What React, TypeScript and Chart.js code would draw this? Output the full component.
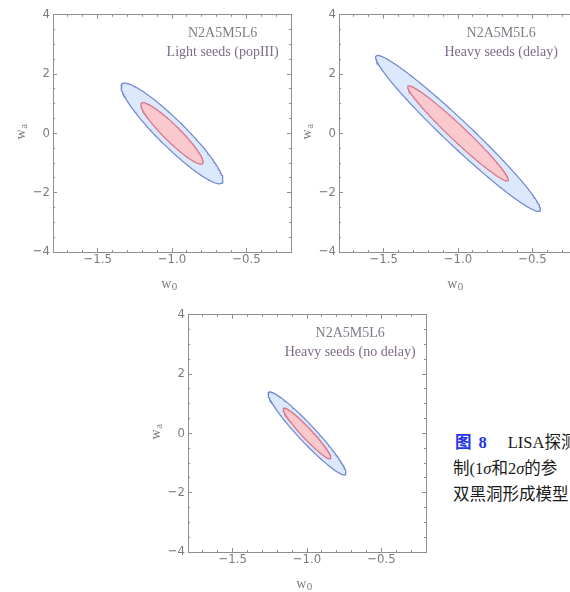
import { useEffect, useRef } from "react";
import { Chart, registerables } from "chart.js";

Chart.register(...registerables);

// Model and MBH formation scenarios, one panel each
const MODEL_NAME = "N2A5M5L6";
const SCENARIOS = ["Light seeds (popIII)", "Heavy seeds (delay)", "Heavy seeds (no delay)"];

// Fisher forecast for the dark-energy parameters (w0, wa):
// fiducial values, marginalised 1σ errors and their correlation coefficient
const FIDUCIAL_W0 = [-1.0, -1.0, -1.0];
const FIDUCIAL_WA = [0.0, 0.0, 0.0];
const SIGMA_W0 = [0.138, 0.223, 0.1055];
const SIGMA_WA = [0.684, 1.059, 0.564];
const CORRELATION = [-0.93, -0.975, -0.955];

// Δχ² of the 68.3% and 95.4% joint regions for two parameters
const CONTOUR_LEVELS = [2.3, 6.17];
const CONTOUR_NAMES = ["1σ", "2σ"];

// Axes
const W0_RANGE = [-1.8, -0.2];
const WA_RANGE = [-4, 4];
const W0_TICKS = [-1.5, -1.0, -0.5];
const W0_TICK_LABELS = ["−1.5", "−1.0", "−0.5"];
const W0_MINOR_TICKS = [-1.8, -1.7, -1.6, -1.5, -1.4, -1.3, -1.2, -1.1, -1.0, -0.9, -0.8, -0.7, -0.6, -0.5, -0.4, -0.3, -0.2];
const WA_TICKS = [-4, -2, 0, 2, 4];
const WA_TICK_LABELS = ["−4", "−2", "0", "2", "4"];
const WA_MINOR_TICKS = [-4, -3.5, -3, -2.5, -2, -1.5, -1, -0.5, 0, 0.5, 1, 1.5, 2, 2.5, 3, 3.5, 4];
// Axis titles: symbol and subscript
const X_TITLE = ["w", "0"];
const Y_TITLE = ["w", "a"];

const SERIF = "'Liberation Serif', 'Times New Roman', serif";
const TICK_FONT = "'Liberation Sans Narrow', 'DejaVu Sans Condensed', 'Liberation Sans', sans-serif";
const FRAME_COLOR = "#8e8e8e";
const TEXT_GRAY = "#7c7c7c";

const STYLE = [
  { fill: "#fac9ce", line: "#d7738a" }, // 1σ
  { fill: "#dce8fb", line: "#7085cf" }, // 2σ
];

// Outline of the confidence ellipse for one panel and one Δχ² level
function contour(panel: number, level: number) {
  const r = Math.sqrt(level);
  const rho = CORRELATION[panel];
  const steps = 240;
  const pts: { x: number; y: number }[] = [];
  for (let k = 0; k <= steps; k++) {
    const t = (2 * Math.PI * k) / steps;
    pts.push({
      x: FIDUCIAL_W0[panel] + r * SIGMA_W0[panel] * Math.cos(t),
      y:
        FIDUCIAL_WA[panel] +
        r * SIGMA_WA[panel] * (rho * Math.cos(t) + Math.sqrt(1 - rho * rho) * Math.sin(t)),
    });
  }
  return pts;
}

// Draws "symbol + subscript" starting at the current origin, baseline at 0
function drawSubscripted(ctx: CanvasRenderingContext2D, parts: string[], centerX: number) {
  ctx.font = `14px ${SERIF}`;
  const w1 = ctx.measureText(parts[0]).width;
  ctx.font = `11px ${SERIF}`;
  const w2 = ctx.measureText(parts[1]).width;
  const start = centerX - (w1 + w2) / 2;
  ctx.textAlign = "left";
  ctx.textBaseline = "alphabetic";
  ctx.font = `14px ${SERIF}`;
  ctx.fillText(parts[0], start, 0);
  ctx.font = `11px ${SERIF}`;
  ctx.fillText(parts[1], start + w1 + 0.5, 2);
}

// Axis titles and the labels written inside the frame, top right
const panelTextPlugin = {
  id: "panelText",
  afterDatasetsDraw(chart: any, _args: any, opts: any) {
    const { ctx, scales, chartArea } = chart;
    ctx.save();
    ctx.font = `14px ${SERIF}`;
    ctx.textAlign = "center";
    ctx.textBaseline = "middle";
    opts.lines.forEach((line: string, i: number) => {
      ctx.fillStyle = opts.colors[i];
      ctx.fillText(line, scales.x.getPixelForValue(opts.x), scales.y.getPixelForValue(opts.y[i]));
    });
    ctx.restore();
  },
  afterDraw(chart: any) {
    const { ctx, chartArea } = chart;
    const midX = (chartArea.left + chartArea.right) / 2;
    const midY = (chartArea.top + chartArea.bottom) / 2;
    ctx.save();
    ctx.fillStyle = TEXT_GRAY;
    ctx.translate(0, chartArea.bottom + 35.5);
    drawSubscripted(ctx, X_TITLE, midX - 3);
    ctx.restore();

    ctx.save();
    ctx.fillStyle = TEXT_GRAY;
    ctx.translate(chartArea.left - 28, 0);
    ctx.rotate(-Math.PI / 2);
    drawSubscripted(ctx, Y_TITLE, -(midY - 1.5));
    ctx.restore();
  },
};

type Side = "bottom" | "top" | "left" | "right";

function frameAxis(position: Side, range: number[], values: number[], tickLength: number, weight: number, extra: any = {}) {
  const horizontal = position === "bottom" || position === "top";
  const size = extra.size ?? 0;
  return {
    type: "linear",
    position,
    min: range[0],
    max: range[1],
    weight,
    afterBuildTicks: (s: any) => {
      s.ticks = values.map((value) => ({ value }));
    },
    afterFit: (s: any) => {
      if (horizontal) s.height = size;
      else s.width = size;
    },
    grid: {
      display: true,
      drawOnChartArea: false,
      drawTicks: true,
      tickLength: -tickLength,
      color: FRAME_COLOR,
      lineWidth: 1,
    },
    border: { display: weight > 0, color: FRAME_COLOR, width: 1 },
    ticks: extra.ticks ?? { display: false },
    title: { display: false },
  };
}

function buildConfig(panel: number, textX: number): any {
  const datasets = CONTOUR_LEVELS.map((level, j) => ({
    label: CONTOUR_NAMES[j],
    data: contour(panel, level),
    fill: "shape",
    backgroundColor: STYLE[j].fill,
    borderColor: STYLE[j].line,
    borderWidth: 1.2,
    pointRadius: 0,
    tension: 0,
  }));

  return {
    type: "line",
    data: { datasets },
    options: {
      animation: false,
      responsive: false,
      events: [],
      layout: { padding: { left: 0, top: 14, right: 9, bottom: 0 } },
      plugins: {
        legend: { display: false },
        tooltip: { enabled: false },
        panelText: {
          lines: [MODEL_NAME, SCENARIOS[panel]],
          colors: ["#7d7d86", "#7c6a8a"],
          x: textX,
          y: [3.36, 2.72],
        },
      },
      scales: {
        x: frameAxis("bottom", W0_RANGE, W0_TICKS, 4, 1, {
          size: 40,
          ticks: {
            display: true,
            autoSkip: false,
            maxRotation: 0,
            padding: 4,
            color: TEXT_GRAY,
            font: { family: TICK_FONT, size: 13 },
            callback: (_v: any, i: number) => W0_TICK_LABELS[i],
          },
        }),
        xMinor: frameAxis("bottom", W0_RANGE, W0_MINOR_TICKS, 2, 0),
        xTop: frameAxis("top", W0_RANGE, W0_TICKS, 4, 1),
        xTopMinor: frameAxis("top", W0_RANGE, W0_MINOR_TICKS, 2, 0),
        y: frameAxis("left", WA_RANGE, WA_TICKS, 4, 1, {
          size: 53,
          ticks: {
            display: true,
            autoSkip: false,
            padding: 7,
            color: TEXT_GRAY,
            font: { family: TICK_FONT, size: 13 },
            callback: (_v: any, i: number) => WA_TICK_LABELS[i],
          },
        }),
        yMinor: frameAxis("left", WA_RANGE, WA_MINOR_TICKS, 2, 0),
        yRight: frameAxis("right", WA_RANGE, WA_TICKS, 4, 1),
        yRightMinor: frameAxis("right", WA_RANGE, WA_MINOR_TICKS, 2, 0),
      },
    },
    plugins: [panelTextPlugin],
  };
}

function Panel({ panel, left, top, textX }: { panel: number; left: number; top: number; textX: number }) {
  const ref = useRef<HTMLCanvasElement>(null);
  useEffect(() => {
    if (!ref.current) return;
    const chart = new Chart(ref.current, buildConfig(panel, textX));
    return () => chart.destroy();
  }, [panel, textX]);
  return (
    <canvas
      ref={ref}
      width={300}
      height={292}
      style={{ position: "absolute", left, top, width: 300, height: 292 }}
    />
  );
}

export default function App() {
  return (
    <div
      style={{
        position: "fixed",
        left: 0,
        top: 0,
        width: 570,
        height: 592,
        overflow: "hidden",
        background: "#ffffff",
      }}
    >
      <Panel panel={0} left={0} top={0} textX={-0.66} />
      <Panel panel={1} left={286} top={0} textX={-0.71} />
      <Panel panel={2} left={135} top={300} textX={-0.71} />
      <div
        style={{
          position: "absolute",
          left: 453,
          top: 430,
          fontSize: 16.5,
          lineHeight: "26px",
          whiteSpace: "nowrap",
          fontFamily: "'Liberation Serif', 'Noto Sans CJK SC', serif",
          color: "#1a1a1a",
        }}
      >
        <div>
          <span style={{ color: "#2233ee", fontWeight: "bold", marginLeft: 2 }}>图</span>
          <span style={{ color: "#2233ee", fontWeight: "bold", marginLeft: 7 }}>8</span>
          <span style={{ marginLeft: 21 }}>LISA探测</span>
        </div>
        <div>
          制(1<i>σ</i>和2<i>σ</i>的参
        </div>
        <div>双黑洞形成模型</div>
      </div>
    </div>
  );
}
